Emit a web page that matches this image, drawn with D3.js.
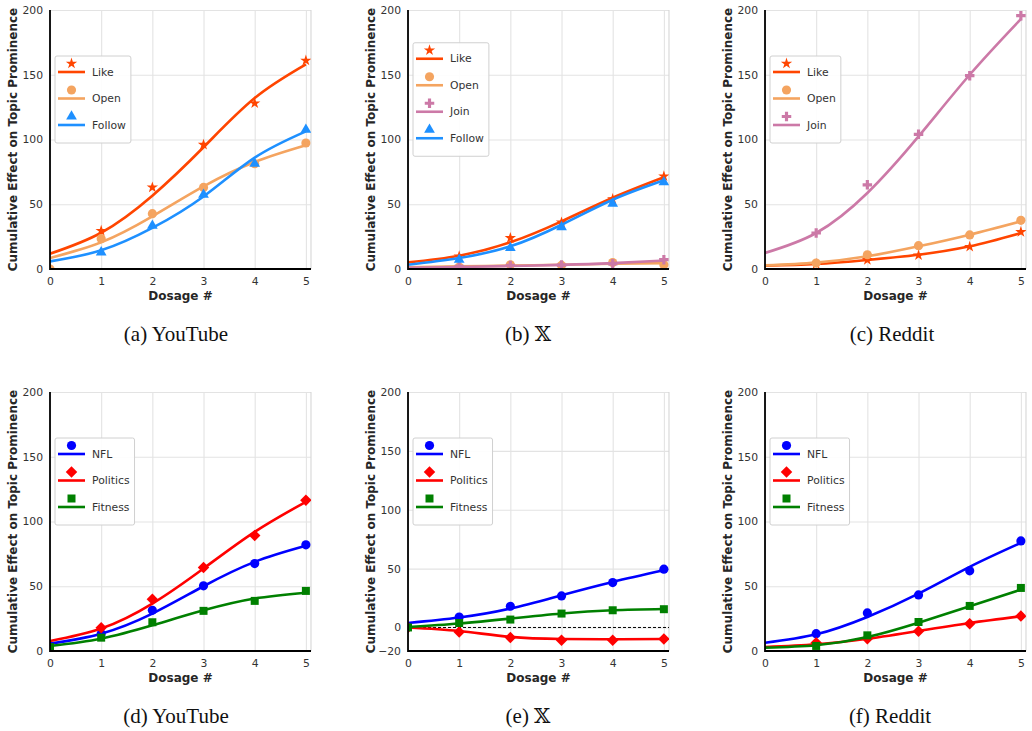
<!DOCTYPE html>
<html>
<head>
<meta charset="utf-8">
<script src="https://cdn.jsdelivr.net/npm/d3@7"></script>
<style>
  body { margin: 0; background: #fff; }
  svg { display: block; }
</style>
</head>
<body>
<svg id="fig" width="1032" height="731"></svg>
<script>
const dosage = [0, 1, 2, 3, 4, 5];
const actionNames = ["Like", "Open", "Join", "Follow"];
const topicNames = ["NFL", "Politics", "Fitness"];

const ytLikePts   = [null, 29.5, 63, 96, 128, 161];
const ytLikeFit   = [11.8, 28, 56.6, 94, 132, 158];
const ytOpenPts   = [0, 23.4, 42.7, 63, 81.3, 97.3];
const ytOpenFit   = [8.5, 20.6, 40.7, 63.8, 82.6, 95.5];
const ytFollowPts = [null, 12.9, 33.5, 57.4, 81.3, 107.6];
const ytFollowFit = [5.9, 14.4, 31.7, 56, 86, 106.3];

// (b) X - actions
const xLikePts   = [null, 9.8, 24, 36, 54, 71.6];
const xLikeFit   = [5.1, 10.3, 20.6, 36.8, 55, 70.8];
const xOpenPts   = [null, 1.5, 3.3, 2.8, 5, 3.3];
const xOpenFit   = [1.3, 2, 2.6, 3.3, 4, 4.5];
const xJoinPts   = [null, 2, 2.8, 3, 4, 7.2];
const xJoinFit   = [1, 1.5, 2.3, 3.2, 4.5, 6.5];
const xFollowPts = [null, 7.2, 16.2, 32.4, 50.4, 67];
const xFollowFit = [3.3, 8.5, 17.5, 34.2, 53.5, 68.5];

// (c) Reddit - actions
const rdLikePts = [null, 3.9, 7, 10.6, 17.2, 28.6];
const rdLikeFit = [2.6, 3.9, 7, 11, 17.5, 27.8];
const rdOpenPts = [null, 4.6, 11, 18, 26.3, 37.6];
const rdOpenFit = [2.8, 4.9, 9.8, 17.5, 26.5, 36.8];
const rdJoinPts = [null, 27.8, 65, 104, 149.3, 195.6];
const rdJoinFit = [12.4, 27.8, 58.7, 102.4, 150, 193];

// (d) YouTube - topics
const ytNflPts = [null, 13.4, 31.4, 50.3, 67.5, 82];
const ytNflFit = [5.7, 13.4, 28.9, 50, 68.8, 81.2];
const ytPolPts = [null, 18, 40, 64.4, 89.2, 116.5];
const ytPolFit = [7.7, 17.3, 36.6, 63.7, 92, 115.2];
const ytFitPts = [3, 10.3, 22.2, 31, 38.7, 46.4];
const ytFitFit = [3.9, 9.5, 19.8, 31.4, 40.5, 45];

// (e) X - topics
const xNflPts = [null, 8.9, 18, 26.8, 38.1, 49.5];
const xNflFit = [3.8, 8.4, 16, 27.4, 38.7, 48.6];
const xPolPts = [0, -3.8, -8.6, -10.9, -10.9, -9.8];
const xPolFit = [0, -3, -8, -9.8, -10, -9.8];
const xFitPts = [0, 3.8, 6.7, 11.8, 14.6, 15.5];
const xFitFit = [0.4, 3.3, 7.5, 11.8, 14.6, 15.7];

// (f) Reddit - topics
const rdNflPts = [null, 13.4, 29.4, 43.3, 61.9, 85];
const rdNflFit = [6.4, 12.9, 26.3, 44.3, 65, 83.5];
const rdPolPts = [null, 6.4, 9.5, 15.2, 21.1, 27];
const rdPolFit = [3.1, 5.2, 9.5, 15.5, 21.6, 26.8];
const rdFitPts = [null, 3.9, 12.1, 22.4, 34.8, 48.7];
const rdFitFit = [2.6, 4.4, 10.8, 21.9, 34.5, 47.4];

// colours and markers per series
const style = {
  "Like":     { color: "#ff4500", symbol: d3.symbolStar, size: 40 },
  "Open":     { color: "#f4a460", symbol: d3.symbolCircle, size: 66 },
  "Join":     { color: "#cc79a7", symbol: d3.symbolCross, size: 50 },
  "Follow":   { color: "#1e90ff", symbol: d3.symbolTriangle, size: 50 },
  "NFL":      { color: "#0000ff", symbol: d3.symbolCircle, size: 66 },
  "Politics": { color: "#ff0000", symbol: d3.symbolSquare, size: 66, rotate: 45 },
  "Fitness":  { color: "#008000", symbol: d3.symbolSquare, size: 64 }
};

const plotW = 261, plotH = 259;

const panels = [
  { left: 50, top: 10, yMin: 0, capX: 176, caption: "(a) YouTube",
    series: [[actionNames[0], ytLikePts, ytLikeFit], [actionNames[1], ytOpenPts, ytOpenFit], [actionNames[3], ytFollowPts, ytFollowFit]] },
  { left: 408, top: 10, yMin: 0, capX: 528, caption: "(b) \u{1D54F}",
    series: [[actionNames[0], xLikePts, xLikeFit], [actionNames[1], xOpenPts, xOpenFit], [actionNames[2], xJoinPts, xJoinFit], [actionNames[3], xFollowPts, xFollowFit]] },
  { left: 765, top: 10, yMin: 0, capX: 892, caption: "(c) Reddit",
    series: [[actionNames[0], rdLikePts, rdLikeFit], [actionNames[1], rdOpenPts, rdOpenFit], [actionNames[2], rdJoinPts, rdJoinFit]] },
  { left: 50, top: 392, yMin: 0, capX: 176, caption: "(d) YouTube",
    series: [[topicNames[0], ytNflPts, ytNflFit], [topicNames[1], ytPolPts, ytPolFit], [topicNames[2], ytFitPts, ytFitFit]] },
  { left: 408, top: 392, yMin: -20, capX: 528, caption: "(e) \u{1D54F}", zeroLine: true,
    series: [[topicNames[0], xNflPts, xNflFit], [topicNames[1], xPolPts, xPolFit], [topicNames[2], xFitPts, xFitFit]] },
  { left: 765, top: 392, yMin: 0, capX: 890, caption: "(f) Reddit",
    series: [[topicNames[0], rdNflPts, rdNflFit], [topicNames[1], rdPolPts, rdPolFit], [topicNames[2], rdFitPts, rdFitFit]] }
];

const svg = d3.select("#fig");

const symbolPath = (name) => d3.symbol().type(style[name].symbol).size(style[name].size)();
const symbolTransform = (name, cx, cy) =>
  `translate(${cx},${cy})` + (style[name].rotate ? ` rotate(${style[name].rotate})` : "");

panels.forEach((p, pi) => {
  const x = d3.scaleLinear().domain([0, 5.1]).range([p.left, p.left + plotW]);
  const y = d3.scaleLinear().domain([p.yMin, 200]).range([p.top + plotH, p.top]);
  const yTicks = p.yMin < 0 ? [p.yMin, 0, 50, 100, 150, 200] : [0, 50, 100, 150, 200];

  const g = svg.append("g");

  // grid + tick labels
  const yAxis = g.append("g")
    .attr("transform", `translate(${p.left},0)`)
    .call(d3.axisLeft(y).tickValues(yTicks).tickSize(-plotW).tickPadding(7)
      .tickFormat(d => d < 0 ? "\u2212" + Math.abs(d) : d));
  const xAxis = g.append("g")
    .attr("transform", `translate(0,${p.top + plotH})`)
    .call(d3.axisBottom(x).tickValues(dosage).tickSize(-plotH).tickPadding(8.5).tickFormat(d3.format("d")));
  [yAxis, xAxis].forEach(a => {
    a.select(".domain").remove();
    a.selectAll(".tick line").attr("stroke", "#e3e3e3").attr("stroke-width", 1.1);
    a.selectAll("text").style("font-family", "DejaVu Sans").style("font-size", "10.8px").attr("fill", "#333");
  });

  // light right frame
  g.append("line").attr("x1", p.left + plotW).attr("x2", p.left + plotW)
    .attr("y1", p.top).attr("y2", p.top + plotH).attr("stroke", "#d6d6d6").attr("stroke-width", 1.1);

  const clipId = "clip" + pi;
  g.append("clipPath").attr("id", clipId).append("rect")
    .attr("x", p.left).attr("y", p.top).attr("width", plotW).attr("height", plotH);
  const plot = g.append("g").attr("clip-path", `url(#${clipId})`);

  if (p.zeroLine) {
    plot.append("line").attr("x1", x(0)).attr("x2", x(5.1)).attr("y1", y(0)).attr("y2", y(0))
      .attr("stroke", "#000").attr("stroke-width", 1).attr("stroke-dasharray", "3,2");
  }

  const line = d3.line()
    .x((d, i) => x(dosage[i]))
    .y(d => y(d))
    .curve(d3.curveNatural);

  p.series.forEach(([name, pts, fit]) => {
    plot.append("path")
      .attr("d", line(fit))
      .attr("fill", "none")
      .attr("stroke", style[name].color)
      .attr("stroke-width", 2.6);
    plot.selectAll(null)
      .data(pts.map((v, i) => ({ x: dosage[i], v })).filter(d => d.v !== null))
      .enter().append("path")
      .attr("d", symbolPath(name))
      .attr("transform", d => symbolTransform(name, x(d.x), y(d.v)))
      .attr("fill", style[name].color);
  });

  // black left/bottom spines
  g.append("line").attr("x1", p.left).attr("x2", p.left).attr("y1", p.top).attr("y2", p.top + plotH + 1)
    .attr("stroke", "#000").attr("stroke-width", 1.8);
  g.append("line").attr("x1", p.left).attr("x2", p.left + plotW).attr("y1", p.top + plotH).attr("y2", p.top + plotH)
    .attr("stroke", "#000").attr("stroke-width", 1.8);

  // axis titles
  g.append("text")
    .attr("transform", `translate(${p.left - 37},${p.top + plotH / 2}) rotate(-90)`)
    .attr("text-anchor", "middle").attr("dominant-baseline", "central")
    .style("font-family", "DejaVu Sans").style("font-weight", "bold").style("font-size", "12px")
    .attr("fill", "#262626")
    .text("Cumulative Effect on Topic Prominence");
  g.append("text")
    .attr("x", x(2.55)).attr("y", p.top + plotH + 27)
    .attr("text-anchor", "middle").attr("dominant-baseline", "central")
    .style("font-family", "DejaVu Sans").style("font-weight", "bold").style("font-size", "12px")
    .attr("fill", "#262626")
    .text("Dosage #");

  // legend
  const n = p.series.length;
  const rowH = 26.5;
  const boxH = 16 + (n - 1) * rowH + 18;
  const boxX = p.left + 5;
  const boxY = p.top + 89.5 - boxH / 2;
  const leg = g.append("g");
  const box = leg.append("rect");
  let maxW = 0;
  p.series.forEach(([name], i) => {
    const cy = boxY + 16 + i * rowH;
    leg.append("line").attr("x1", boxX + 3).attr("x2", boxX + 30).attr("y1", cy).attr("y2", cy)
      .attr("stroke", style[name].color).attr("stroke-width", 2.6);
    leg.append("path").attr("d", symbolPath(name))
      .attr("transform", symbolTransform(name, boxX + 16.5, cy - 8.5))
      .attr("fill", style[name].color);
    const t = leg.append("text")
      .attr("x", boxX + 37).attr("y", cy).attr("dominant-baseline", "central")
      .style("font-family", "DejaVu Sans").style("font-size", "10.8px").attr("fill", "#333")
      .text(name);
    maxW = Math.max(maxW, t.node().getComputedTextLength());
  });
  box.attr("x", boxX).attr("y", boxY).attr("width", 37 + maxW + 5).attr("height", boxH)
    .attr("rx", 2).attr("fill", "#fff").attr("fill-opacity", 0.9)
    .attr("stroke", "#d0d0d0").attr("stroke-width", 1);

  // caption
  g.append("text")
    .attr("x", p.capX).attr("y", p.top + plotH + 72)
    .attr("text-anchor", "middle")
    .style("font-family", "'Liberation Serif', 'DejaVu Serif', 'DejaVu Sans', serif").style("font-size", "21px")
    .attr("fill", "#111")
    .text(p.caption);
});
</script>
</body>
</html>
